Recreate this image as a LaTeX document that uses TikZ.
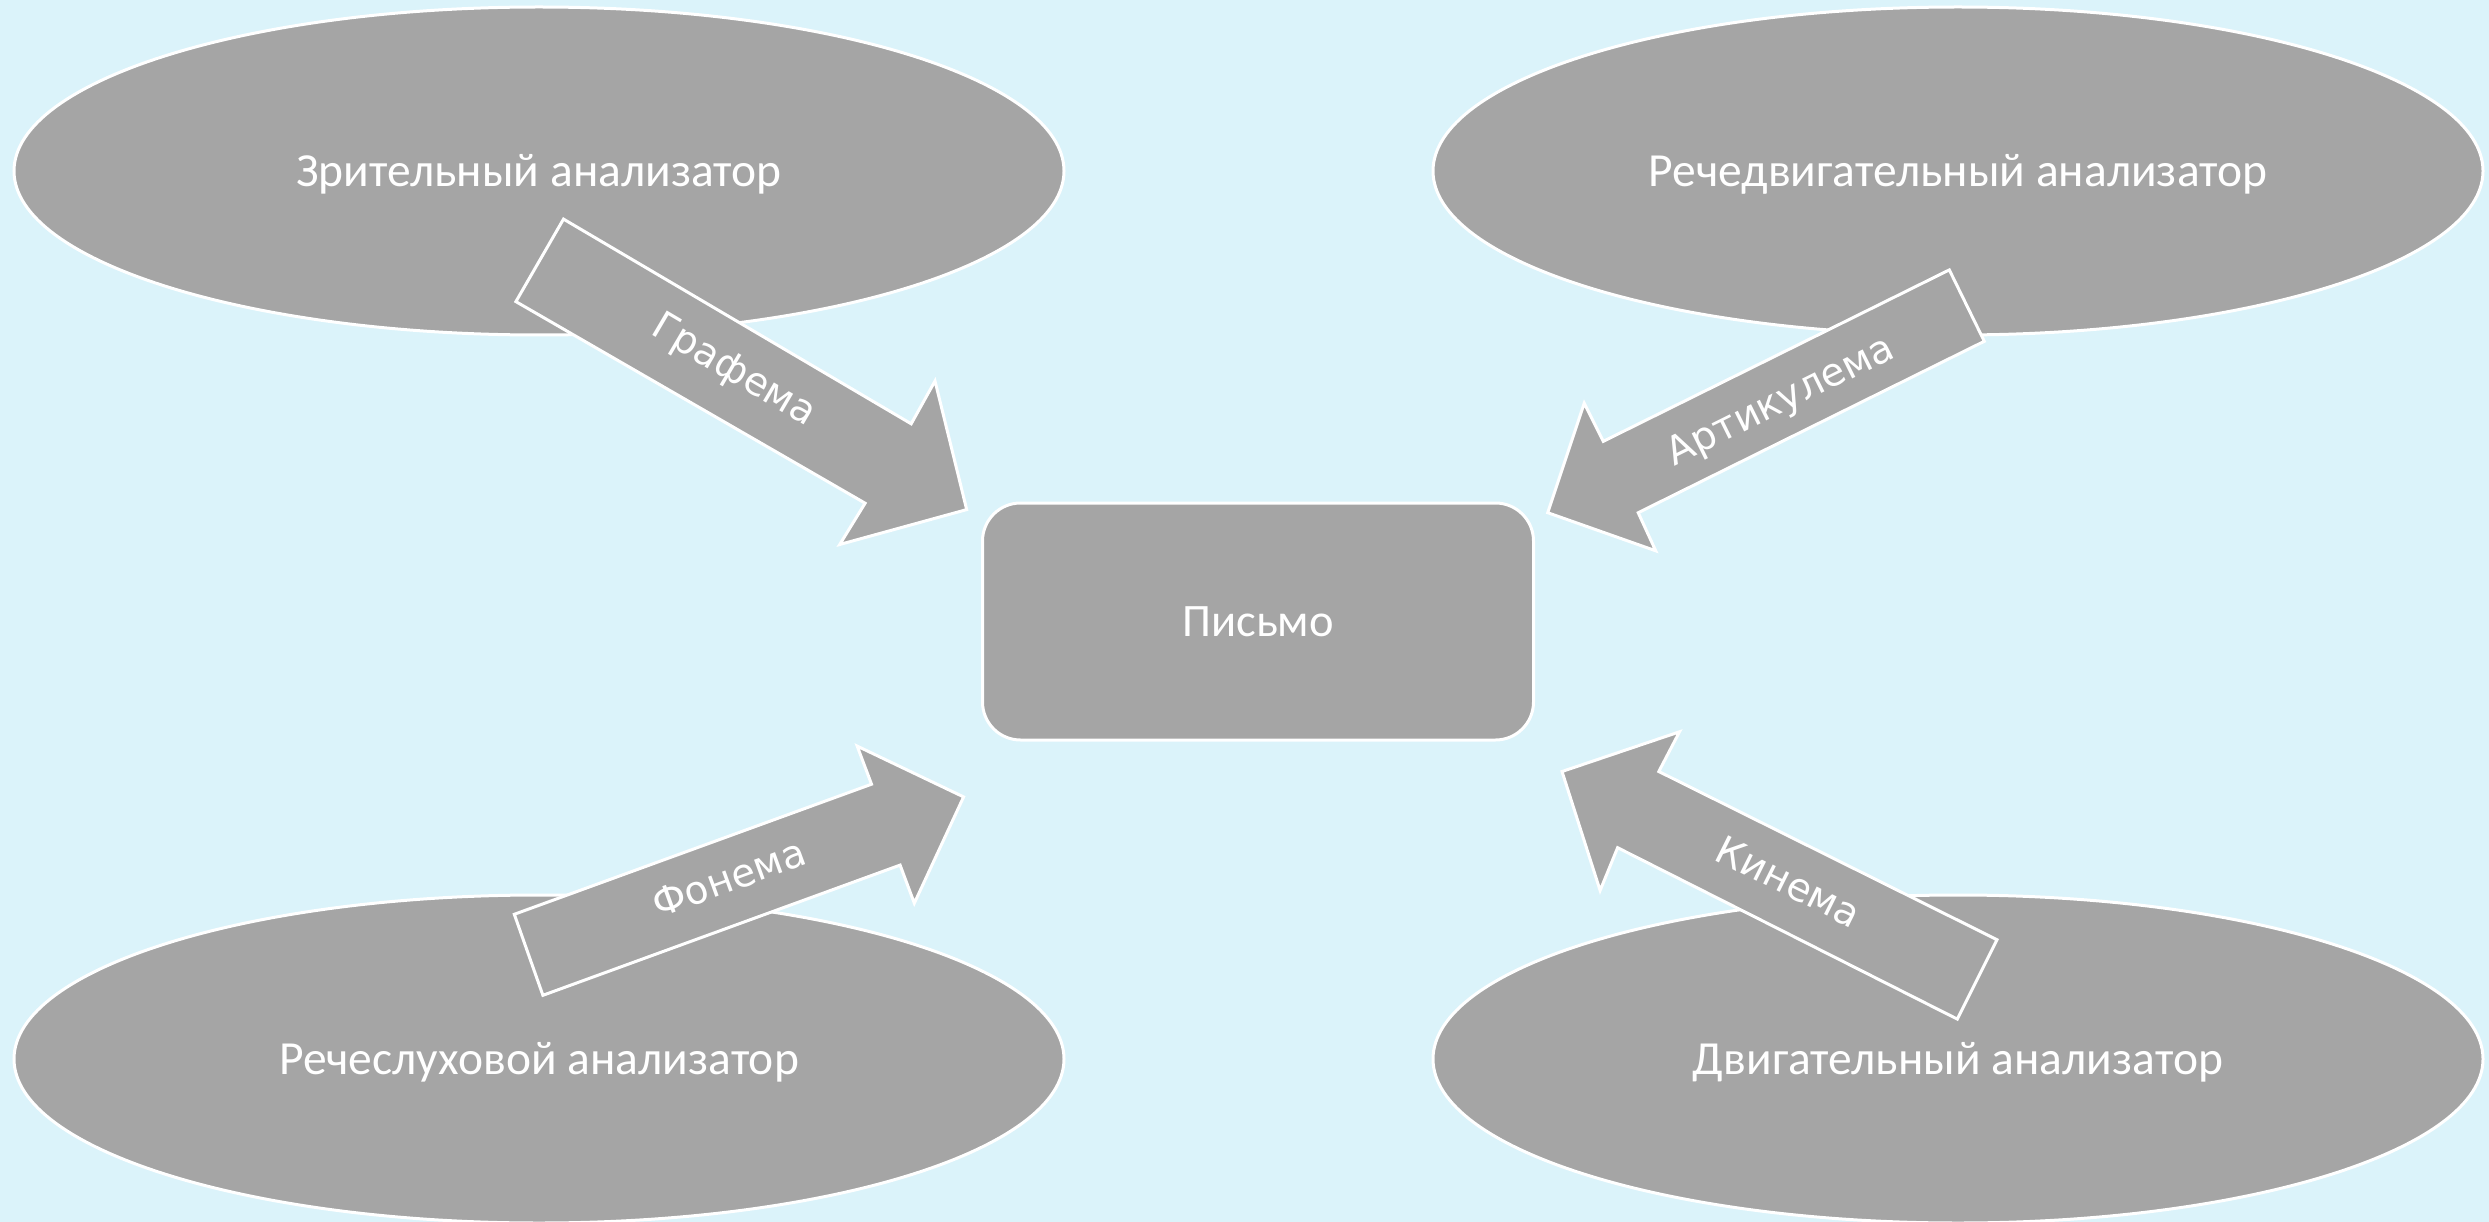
\documentclass[tikz,border=0pt]{standalone}
\usepackage{fontspec}
\setmainfont{Carlito}
\newfontfamily\labfont{DejaVu Sans}
\usetikzlibrary{shapes.geometric}
\definecolor{bgblue}{HTML}{DBF3FA}
\definecolor{shapegray}{HTML}{A5A5A5}
\tikzset{
  ana/.style={ellipse, fill=shapegray, draw=white, line width=3pt,
    minimum width=1050pt, minimum height=328pt, inner sep=0pt,
    text=white, font=\fontsize{47.5}{52}\selectfont, text height=30.5pt, text depth=0pt},
  centre/.style={rectangle, rounded corners=38pt, fill=shapegray, draw=white, line width=3pt,
    minimum width=551pt, minimum height=237pt, text=white,
    font=\fontsize{46.5}{50}\selectfont, text height=30pt, text depth=0pt},
  blk/.style={fill=shapegray, draw=white, line width=3pt, line join=miter},
  blklab/.style={text=white, inner sep=0pt, font=\labfont\fontsize{39}{42}\selectfont,
    text height=21.5pt, text depth=0pt}
}
\begin{document}
\begin{tikzpicture}[x=1pt,y=-1pt]
\useasboundingbox (0,0) rectangle (2489,1222);
\fill[bgblue] (0,0) rectangle (2489,1222);
% analysers
\node[ana] (zr) at (539,171) {Зрительный анализатор};
\node[ana] (rd) at (1958,171) {Речедвигательный анализатор};
\node[ana] (rs) at (539,1059) {Речеслуховой анализатор};
\node[ana] (dv) at (1958,1059) {Двигательный анализатор};
% centre
\node[centre] (pis) at (1258,621.5) {Письмо};
% block arrows
\draw[blk] (563.5,219.1) -- (911.2,423.8) -- (935.0,381.0) -- (966.7,509.6)
  -- (839.7,544.5) -- (865.1,503.2) -- (515.9,301.6) -- cycle;
\node[blklab, rotate=-30.5] (graf) at (733.4,371) {Графема};
\draw[blk] (1949.3,269.9) -- (1984.3,341.3) -- (1638.2,512.7) -- (1655.7,550.8)
  -- (1547.7,512.7) -- (1584.2,403.2) -- (1603.3,441.3) -- cycle;
\node[blklab, rotate=26.4] (art) at (1781,402) {Артикулема};
\draw[blk] (514.3,914.3) -- (871.5,784.2) -- (857.2,746.1) -- (963.6,796.9)
  -- (914.3,903.2) -- (900.1,865.1) -- (542.9,995.3) -- cycle;
\node[blklab, rotate=20] (fon) at (730,881) {Фонема};
\draw[blk] (1997,939.7) -- (1957.3,1019.1) -- (1617.6,847.7) -- (1600.1,890.5)
  -- (1562,771.5) -- (1679.5,731.8) -- (1658.8,771.5) -- cycle;
\node[blklab, rotate=-26.5] (kin) at (1787.4,884.3) {Кинема};
\end{tikzpicture}
\end{document}
